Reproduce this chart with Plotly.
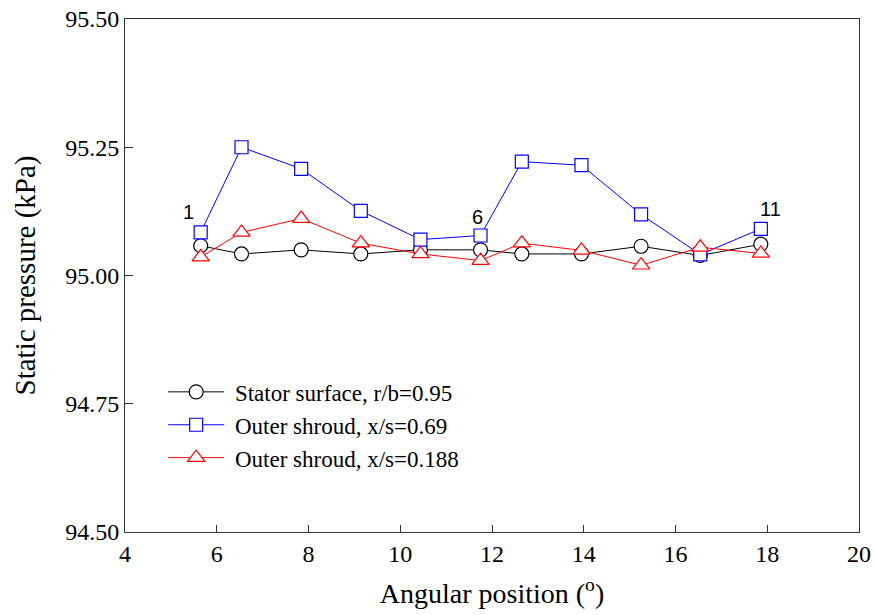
import plotly.graph_objects as go

angle = [5.65, 6.54, 7.84, 9.14, 10.44, 11.75, 12.65, 13.95, 15.25, 16.54, 17.86]
stator_095 = [95.058, 95.042, 95.050, 95.042, 95.050, 95.050, 95.042, 95.042, 95.057, 95.039, 95.061]
shroud_069 = [95.084, 95.250, 95.208, 95.126, 95.070, 95.078, 95.222, 95.215, 95.119, 95.041, 95.091]
shroud_0188 = [95.036, 95.084, 95.111, 95.063, 95.042, 95.029, 95.063, 95.049, 95.020, 95.055, 95.043]

names = ["Stator surface, r/b=0.95", "Outer shroud, x/s=0.69", "Outer shroud, x/s=0.188"]
point_labels = ["1", "6", "11"]
label_idx = [0, 5, 10]

x_tickvals = [4, 6, 8, 10, 12, 14, 16, 18, 20]
y_tickvals = [94.5, 94.75, 95.0, 95.25, 95.5]

SERIF = "Liberation Serif"
SANS = "Liberation Sans"

fig = go.Figure()
specs = [(stator_095, "black", "circle", 14),
         (shroud_069, "#0000ff", "square", 13),
         (shroud_0188, "#ff0000", "triangle-up", 15)]
for (vals, col, sym, sz), nm in zip(specs, names):
    fig.add_trace(go.Scatter(
        x=angle, y=vals, name="\u00a0" + nm, mode="lines+markers",
        line=dict(color=col, width=1),
        marker=dict(symbol=sym, size=sz, color="white", line=dict(color=col, width=1.2)),
    ))

shifts = [(-12, 20), (-3, 18), (10, 20)]
for lab, i, (dx, dy) in zip(point_labels, label_idx, shifts):
    fig.add_annotation(x=angle[i], y=shroud_069[i], text=lab, showarrow=False,
                       xshift=dx, yshift=dy,
                       font=dict(family=SANS, size=20, color="black"))

axis_common = dict(showline=True, linecolor="#333333", linewidth=1, mirror=True,
                   ticks="inside", tickcolor="#333333", showgrid=False, zeroline=False,
                   automargin=False,
                   tickfont=dict(family=SERIF, size=24, color="black"))

fig.update_xaxes(range=[4, 20], tickvals=x_tickvals, ticklen=7,
                 title=dict(text="Angular position (<sup>o</sup>)", standoff=17,
                            font=dict(family=SERIF, size=28, color="black")),
                 **axis_common)
fig.update_yaxes(range=[94.5, 95.5], tickvals=y_tickvals, tickformat=".2f",
                 ticklen=8,
                 title=dict(text="Static pressure (kPa)", standoff=21,
                            font=dict(family=SERIF, size=29, color="black")),
                 **axis_common)

fig.update_layout(
    width=874, height=615,
    margin=dict(l=125, r=15, t=19, b=83),
    paper_bgcolor="white", plot_bgcolor="white",
    font=dict(family=SERIF, color="black"),
    showlegend=True,
    legend=dict(x=0.052, y=0.315, xanchor="left", yanchor="top", bgcolor="rgba(0,0,0,0)",
                itemwidth=56, tracegroupgap=0,
                font=dict(family=SERIF, size=23, color="black")),
)

fig.write_html("out.html")
